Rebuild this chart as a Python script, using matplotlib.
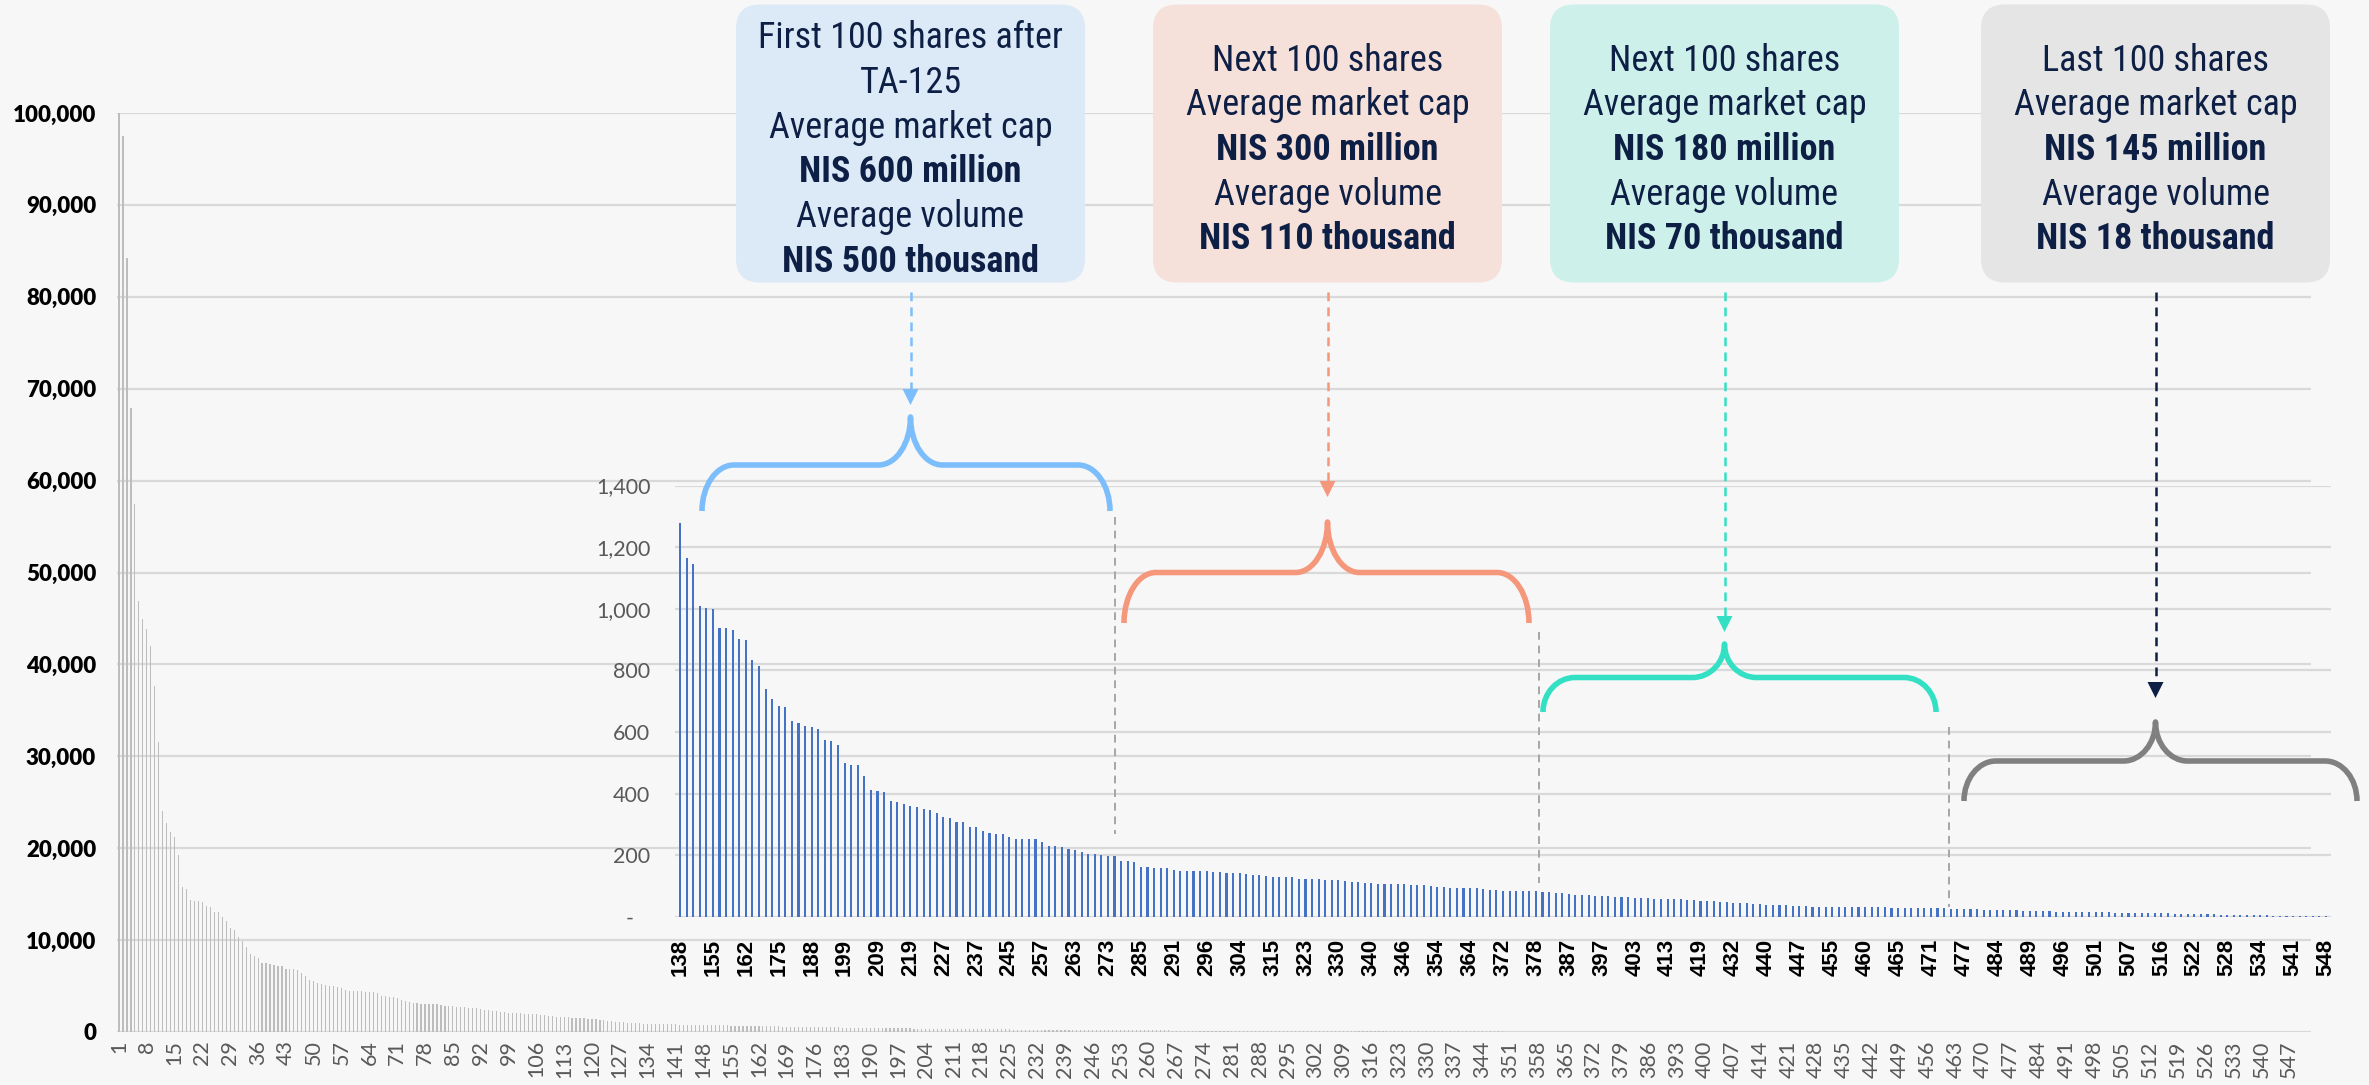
import numpy as np
import matplotlib.pyplot as plt
from matplotlib import font_manager
from matplotlib.patches import FancyBboxPatch, PathPatch, Polygon
from matplotlib.path import Path

# ---- data ----
# main chart: value per share rank 1..552 (rank 1 runs past the axis top)
main_values = [
    118000, 97500, 84200, 67900, 57400, 46900, 44900, 43900, 42000, 37700,
    31600, 24000, 22700, 21800, 21200, 19300, 15800, 15600, 14400, 14300,
    14250, 14100, 13700, 13600, 13100, 13050, 12500, 12050, 11300, 11100,
    10300, 9900, 9200, 8500, 8250, 8000, 7500, 7470, 7440, 7310,
    7200, 7130, 6900, 6830, 6830, 6750, 6380, 6120, 5640, 5530,
    5380, 5200, 5120, 5050, 4970, 4900, 4790, 4530, 4500, 4480,
    4450, 4420, 4380, 4350, 4320, 4280, 3970, 3900, 3850, 3780,
    3650, 3490, 3400, 3230, 3180, 3120, 3100, 3080, 3060, 3040,
    3000, 2920, 2860, 2820, 2780, 2720, 2690, 2670, 2640, 2600,
    2560, 2490, 2430, 2380, 2300, 2250, 2230, 2180, 2120, 2080,
    2040, 2020, 1990, 1960, 1940, 1930, 1880, 1820, 1760, 1700,
    1680, 1650, 1620, 1590, 1570, 1560, 1520, 1480, 1440, 1400,
    1370, 1320, 1260, 1200, 1150, 1100, 1060, 1040, 1010, 990,
    960, 940, 920, 900, 890, 880, 860,
    850, 840, 830, 820, 815, 810, 800, 790, 780, 770, 760, 750, 740, 735, 730, 720, 710, 700, 690, 680,
    670, 665, 660, 650, 640, 630, 620, 615, 610, 600, 590, 580, 575, 570, 560, 550, 545, 540, 530, 520,
    515, 510, 500, 495, 490, 480, 475, 470, 460, 455, 450, 445, 440, 430, 425, 420, 415, 410, 405, 400,
    395, 390, 385, 380, 375, 370, 365, 360, 355, 350, 345, 340, 335, 330, 325, 320, 318, 315, 310, 305,
    300, 298, 295, 290, 285, 280, 278, 275, 270, 265, 262, 260, 255, 250, 248, 245, 240, 238, 235, 230,
    228, 225, 222, 220, 218, 215, 212, 210, 208, 205, 202, 200, 198, 195, 192, 190, 188, 185, 182, 180,
    178, 176, 174, 172, 170, 168, 166, 164, 162, 160, 158, 156, 154, 152, 150, 148, 146, 144, 142, 140,
    139, 138, 136, 135, 134, 132, 131, 130, 128, 127, 126, 124, 123, 122, 120, 119, 118, 116, 115, 114,
    112, 111, 110, 108, 107, 106, 104, 103, 102, 100, 99, 98, 96, 95, 94, 92, 91, 90, 88, 87,
    86, 85, 84, 83, 82, 81, 80, 79, 78, 77, 76, 75, 74, 73, 72, 71, 70, 69, 68, 67,
    66, 65, 64, 63, 62, 61, 60, 59, 58, 57, 56, 55, 54, 53, 52, 51, 50, 49, 48, 47,
    46, 46, 45, 45, 44, 44, 43, 43, 42, 42, 41, 41, 40, 40, 39, 39, 38, 38, 37, 37,
    36, 36, 35, 35, 34, 34, 33, 33, 32, 32, 31, 31, 30, 30, 29, 29, 28, 28, 27, 27,
    26, 26, 25, 25, 24, 24, 23, 23, 22, 22, 21, 21, 20, 20, 20, 19, 19, 19, 18, 18,
    18, 17, 17, 17, 16, 16, 16, 15, 15, 15, 14, 14, 14, 13, 13, 13, 12, 12, 12, 11,
    11, 11, 10, 10, 10, 10, 9, 9, 9, 9, 8, 8, 8, 8, 7, 7, 7, 7, 6, 6,
    6, 6, 6, 5, 5, 5, 5, 5, 4, 4, 4, 4, 4, 4, 3, 3, 3, 3, 3, 3,
    3, 3, 3, 3, 2, 2, 2, 2, 2, 2, 2, 2, 2, 2, 2, 2, 2, 2, 2, 2,
    2, 2, 2, 2, 1, 1, 1, 1, 1, 1, 1, 1, 1, 1, 1, 1, 1, 1, 1, 1,
    1, 1, 1, 1, 1, 1, 1, 1, 1, 1, 1, 1, 1, 1, 1, 1, 1, 1, 1, 1,
    1, 1, 1, 1, 1, 1, 1, 1, 1, 1, 1, 1, 1, 1, 1,
]
main_label_step = 7

# inset chart: 251 bars, a label every 5th bar
inset_values = [
    1279, 1163, 1144, 1009, 1003, 999, 937, 936, 930, 902, 897, 833, 814, 740, 707, 684,
    680, 636, 628, 619, 615, 609, 574, 569, 557, 498, 492, 491, 456, 411, 409, 406,
    377, 372, 367, 360, 355, 351, 345, 338, 324, 320, 308, 307, 292, 290, 277,
    273, 270, 268, 258, 252, 252, 252, 252, 242, 231, 230, 225, 221, 216, 210, 205,
    202, 200, 197, 196, 181, 181, 179, 161, 161, 159, 159, 158, 151, 150, 148, 148,
    148, 147, 145, 144, 143, 142, 141, 138, 136, 134, 133, 129, 129, 128, 128, 122,
    122, 122, 121, 119, 119, 118, 116, 114, 112, 111, 110, 106, 106, 106,
    107, 107, 104, 104, 104, 99, 98, 95, 94, 94, 93, 92, 92, 90, 87, 86, 85, 85,
    84, 84, 83, 82, 81, 80, 78, 77, 74, 72, 71, 69, 68, 67, 67, 64, 63, 63, 62, 61,
    60, 58, 58, 57, 57, 56, 55, 54, 52, 51, 50, 48, 47, 45, 44, 43, 42, 40, 39, 39,
    38, 37, 35, 35, 34, 33, 33, 32, 32, 31, 31, 31,
    31, 31, 30, 30, 30, 28, 28, 28, 28, 28, 28, 27, 27, 28, 26, 25, 25, 24, 24, 23,
    23, 22, 22, 22, 21, 20, 20, 19, 19, 17, 16, 16, 15, 15, 15, 15, 14, 14, 14, 13,
    13, 13, 13, 12, 12, 11, 11, 11, 10, 10, 9, 9, 9, 8, 8, 7, 7, 5, 5, 5, 4, 4, 4,
    3, 3, 3, 2, 2, 2, 1, 1, 1,
]
inset_labels = [138, 155, 162, 175, 188, 199, 209, 219, 227, 237, 245, 257, 263, 273,
                285, 291, 296, 304, 315, 323, 330, 340, 346, 354, 364, 372, 378, 387,
                397, 403, 413, 419, 432, 440, 447, 455, 460, 465, 471, 477, 484, 489,
                496, 501, 507, 516, 522, 528, 534, 541, 548]
inset_label_step = 5

box_lines = [
    ["First 100 shares after", "TA-125", "Average market cap", "NIS 600 million",
     "Average volume", "NIS 500 thousand"],
    ["Next 100 shares", "Average market cap", "NIS 300 million",
     "Average volume", "NIS 110 thousand"],
    ["Next 100 shares", "Average market cap", "NIS 180 million",
     "Average volume", "NIS 70 thousand"],
    ["Last 100 shares", "Average market cap", "NIS 145 million",
     "Average volume", "NIS 18 thousand"],
]
box_colors = ["#dce9f7", "#f6e1da", "#cdf1ea", "#e5e5e5"]
brace_colors = ["#7cbdfb", "#f5977b", "#33e0c4", "#808080"]
arrow_colors = ["#7cbdfb", "#f5977b", "#33e0c4", "#0e1f45"]

BG = "#f7f7f7"
GRID = "#d9d9d9"
NAVY = "#0e1f45"
W, H = 2369, 1085


def first_font(names):
    for name in names:
        try:
            font_manager.findfont(name, fallback_to_default=False)
            return name, True
        except ValueError:
            continue
    return "Lato", False


# condensed face for the call-out boxes if one is around, else Lato a bit smaller
box_font, condensed = first_font(["Roboto Condensed", "Open Sans Condensed",
                                  "Liberation Sans Narrow", "DejaVu Sans Condensed"])
box_size = 26 if condensed else 23.5

fig = plt.figure(figsize=(W / 100, H / 100), dpi=100, facecolor=BG)

# ---- main chart ----
ax = fig.add_axes([117 / W, 1 - 1032 / H, (2311 - 117) / W, (1032 - 113) / H])
ax.set_facecolor(BG)
ranks = np.arange(1, len(main_values) + 1)
ax.bar(ranks, main_values, width=0.3, color="#bdbdbd", zorder=2)
ax.set_xlim(0.5, len(main_values) + 0.5)
ax.set_ylim(0, 100000)
yt = np.arange(0, 100001, 10000)
ax.set_yticks(yt)
ax.set_yticklabels([f"{v:,.0f}" for v in yt], fontsize=16, fontweight="heavy",
                   family="Lato", color="black")
xt = ranks[::main_label_step]
ax.set_xticks(xt)
ax.set_xticklabels([str(v) for v in xt], rotation=90, fontsize=15.5,
                   family="Lato", color="#595959")
ax.tick_params(length=0)
ax.tick_params(axis="y", pad=15)
ax.tick_params(axis="x", pad=6)
ax.yaxis.grid(True, color=GRID, lw=1.6, zorder=0)
ax.set_axisbelow(True)
for s in ax.spines.values():
    s.set_visible(False)

# ---- inset chart ----
n_in = len(inset_values)
bar_px = (2326 - 680) / (n_in - 1)
left_px = 680 - 0.7 * bar_px
right_px = 2326 + 0.7 * bar_px
ins = fig.add_axes([left_px / W, 1 - 916.7 / H, (right_px - left_px) / W, (916.7 - 485.5) / H])
ins.set_facecolor("none")
idx = np.arange(n_in)
ins.bar(idx, inset_values, width=0.32, color="#4472c4", zorder=2)
ins.set_xlim(-0.7, n_in - 1 + 0.7)
ins.set_ylim(0, 1400)
it = np.arange(0, 1401, 200)
ins.set_yticks(it)
ins.set_yticklabels(["-   " if v == 0 else f"{v:,.0f}" for v in it], fontsize=15.5,
                    family="Lato", color="#595959")
ins.set_xticks(idx[::inset_label_step])
ins.set_xticklabels([str(v) for v in inset_labels], rotation=90, fontsize=16,
                    fontweight="bold", family="Liberation Sans", color="black")
ins.tick_params(length=0)
ins.tick_params(axis="y", pad=18)
ins.tick_params(axis="x", pad=16)
ins.yaxis.grid(True, color=GRID, lw=1.6, zorder=0)
ins.set_axisbelow(True)
for s in ins.spines.values():
    s.set_visible(False)

# ---- annotation layer (figure pixels, y down) ----
ov = fig.add_axes([0, 0, 1, 1])
ov.set_xlim(0, W)
ov.set_ylim(H, 0)
ov.axis("off")
ov.patch.set_alpha(0)

box_x = [736, 1153, 1550, 1981]
box_w = 349
box_top, box_h = 4.5, 278
line_gap = 44.7

for bx, lines, bc in zip(box_x, box_lines, box_colors):
    ov.add_patch(FancyBboxPatch((bx, box_top), box_w, box_h,
                                boxstyle="round,pad=0,rounding_size=24",
                                fc=bc, ec="none", zorder=1))
    cx = bx + box_w / 2
    n = len(lines)
    for i, t in enumerate(lines):
        y = 146 + (i - (n - 1) / 2) * line_gap
        ov.text(cx, y, t, ha="center", va="center_baseline", fontsize=box_size,
                color=NAVY, family=box_font,
                fontweight="bold" if t.startswith("NIS") else "normal", zorder=2)

# braces: x0, x1, yh (bar), ye (ends), yc (cusp)
braces = [
    (702, 1110, 465, 511, 417),
    (1124, 1529, 572.5, 623, 522),
    (1543, 1936, 677.5, 712, 644),
    (1964, 2357, 761, 801, 722),
]
arrow_tips = [405, 497, 632, 698]
k = 0.5523
r = 32
for (x0, x1, yh, ye, yc), bc, ac, bx, tip in zip(braces, brace_colors, arrow_colors,
                                                box_x, arrow_tips):
    xm = bx + box_w / 2
    verts = [(x0, ye),
             (x0, ye - k * (ye - yh)), (x0 + r - k * r, yh), (x0 + r, yh),
             (xm - r, yh),
             (xm - r + k * r, yh), (xm, yc + k * (yh - yc)), (xm, yc),
             (xm, yc + k * (yh - yc)), (xm + r - k * r, yh), (xm + r, yh),
             (x1 - r, yh),
             (x1 - r + k * r, yh), (x1, ye - k * (ye - yh)), (x1, ye)]
    codes = ([Path.MOVETO] + [Path.CURVE4] * 3 + [Path.LINETO] + [Path.CURVE4] * 6
             + [Path.LINETO] + [Path.CURVE4] * 3)
    ov.add_patch(PathPatch(Path(verts, codes), fill=False, ec=bc, lw=4,
                           capstyle="butt", joinstyle="round", zorder=3))
    # dashed arrow from the box down to the brace
    ov.plot([xm, xm], [292, tip - 14], color=ac, lw=1.8, ls=(0, (3.5, 2.5)),
            dash_capstyle="butt", zorder=3)
    ov.add_patch(Polygon([(xm - 8, tip - 16), (xm + 8, tip - 16), (xm, tip)],
                         closed=True, fc=ac, ec="none", zorder=3))

# grey dashed separators between groups
for sx, y0, y1 in [(1115, 517, 834), (1538.5, 632, 883), (1949, 727, 907)]:
    ov.plot([sx, sx], [y0, y1], color="#a6a6a6", lw=1.4, ls=(0, (4, 3)), zorder=3)

fig.savefig("out.png", dpi=100, facecolor=BG)
